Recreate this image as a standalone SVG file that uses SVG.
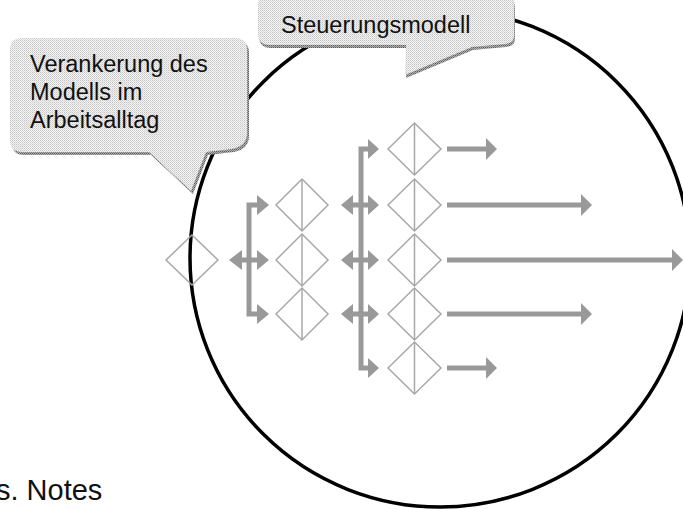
<svg xmlns="http://www.w3.org/2000/svg" width="683" height="509" viewBox="0 0 683 509">
<style>
.dia{fill:none;stroke:#a8a8a8;stroke-width:1.5}
.mid{stroke:#a8a8a8;stroke-width:1.5}
.shaft{fill:none;stroke:#999;stroke-width:5;stroke-linejoin:miter;stroke-linecap:butt}
.head{fill:#999}
.lbl{font-family:"Liberation Sans",Arial,sans-serif;font-size:23.5px;fill:#111}
.note{font-family:"Liberation Sans",Arial,sans-serif;font-size:29px;fill:#111}
</style>
<defs>
<pattern id="dots" width="2" height="2" patternUnits="userSpaceOnUse">
<rect width="2" height="2" fill="#f3f3f3"/><rect width="1" height="1" fill="#c4c4c4"/><rect x="1" y="1" width="1" height="1" fill="#dadada"/>
</pattern>
<pattern id="shadowdots" width="2" height="2" patternUnits="userSpaceOnUse">
<rect width="2" height="2" fill="#b0b0b0"/><rect width="1" height="1" fill="#5a5a5a"/><rect x="1" y="1" width="1" height="1" fill="#808080"/>
</pattern>
</defs>
<rect width="683" height="509" fill="#fff"/>

<g id="circle">
<ellipse cx="440" cy="258" rx="250" ry="249" fill="none" stroke="#000" stroke-width="3.5"/>
</g>

<g id="connectors">
<!-- bracket 1 -->
<path class="shaft" d="M257,205 H249 V314 H257"/>
<path class="shaft" d="M242,260 H257"/>
<polygon class="head" points="257,195 269,205 257,215"/>
<polygon class="head" points="257,250 269,260 257,270"/>
<polygon class="head" points="257,304 269,314 257,324"/>
<polygon class="head" points="242,250 229,260 242,270"/>
<!-- bracket 2 -->
<path class="shaft" d="M368,149 H361 V368 H368"/>
<path class="shaft" d="M353,205 H368 M353,260 H368 M353,314 H368"/>
<polygon class="head" points="368,139 379,149 368,159"/>
<polygon class="head" points="368,195 379,205 368,215"/>
<polygon class="head" points="368,250 379,260 368,270"/>
<polygon class="head" points="368,304 379,314 368,324"/>
<polygon class="head" points="368,358 379,368 368,378"/>
<polygon class="head" points="353,195 341,205 353,215"/>
<polygon class="head" points="353,250 341,260 353,270"/>
<polygon class="head" points="353,304 341,314 353,324"/>
<!-- outputs -->
<path class="shaft" d="M447,149 H487 M447,205 H582 M447,260 H673 M447,314 H582 M447,368 H487"/>
<polygon class="head" points="486,138 497,149 486,160"/>
<polygon class="head" points="581,194 592,205 581,216"/>
<polygon class="head" points="672,249 683,260 672,271"/>
<polygon class="head" points="581,303 592,314 581,325"/>
<polygon class="head" points="486,357 497,368 486,379"/>
</g>

<g id="n0"><polygon class="dia" points="166,260 192,235 218,260 192,285"/></g>
<g id="n1a"><polygon class="dia" points="276,205 302,179 328,205 302,231"/><line class="mid" x1="302" y1="179" x2="302" y2="231"/></g>
<g id="n1b"><polygon class="dia" points="276,260 302,234 328,260 302,286"/><line class="mid" x1="302" y1="234" x2="302" y2="286"/></g>
<g id="n1c"><polygon class="dia" points="276,314 302,288 328,314 302,340"/><line class="mid" x1="302" y1="288" x2="302" y2="340"/></g>
<g id="n2a"><polygon class="dia" points="388,149 414.5,123 441,149 414.5,175"/><line class="mid" x1="414.5" y1="123" x2="414.5" y2="175"/></g>
<g id="n2b"><polygon class="dia" points="388,205 414.5,179 441,205 414.5,231"/><line class="mid" x1="414.5" y1="179" x2="414.5" y2="231"/></g>
<g id="n2c"><polygon class="dia" points="388,260 414.5,234 441,260 414.5,286"/><line class="mid" x1="414.5" y1="234" x2="414.5" y2="286"/></g>
<g id="n2d"><polygon class="dia" points="388,314 414.5,288 441,314 414.5,340"/><line class="mid" x1="414.5" y1="288" x2="414.5" y2="340"/></g>
<g id="n2e"><polygon class="dia" points="388,368 414.5,342 441,368 414.5,394"/><line class="mid" x1="414.5" y1="342" x2="414.5" y2="394"/></g>

<g id="callout-verankerung">
<path transform="translate(2,3)" fill="url(#shadowdots)" d="M22,38 H235 Q247,38 247,50 V133 Q247,146 232,149 L206,152 L191,191 L149,152 H22 Q10,152 10,140 V50 Q10,38 22,38 Z"/>
<path fill="url(#dots)" d="M22,38 H235 Q247,38 247,50 V133 Q247,146 232,149 L206,152 L191,191 L149,152 H22 Q10,152 10,140 V50 Q10,38 22,38 Z"/>
<text class="lbl" x="30" y="72">Verankerung des</text>
<text class="lbl" x="30" y="100">Modells im</text>
<text class="lbl" x="30" y="128">Arbeitsalltag</text>
</g>

<g id="callout-steuerungsmodell">
<path transform="translate(1,3)" fill="url(#shadowdots)" d="M268,-6 H503 Q514,-6 514,6 V36 Q514,43 505,44 L472,47 L405,75 L406,45 H270 Q258,45 258,33 V6 Q258,-6 268,-6 Z"/>
<path fill="url(#dots)" d="M268,-6 H503 Q514,-6 514,6 V36 Q514,43 505,44 L472,47 L405,75 L406,45 H270 Q258,45 258,33 V6 Q258,-6 268,-6 Z"/>
<text class="lbl" x="281" y="33">Steuerungsmodell</text>
</g>

<text class="note" x="-4" y="500">s. Notes</text>
</svg>
